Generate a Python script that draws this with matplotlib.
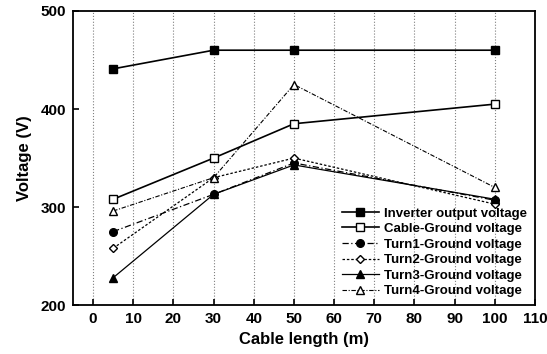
import matplotlib
matplotlib.use("Agg")
import matplotlib.pyplot as plt

cable_length = [5, 30, 50, 100]
inverter = [441, 460, 460, 460]
cable_ground = [308, 350, 385, 405]
turn1 = [275, 313, 345, 307]
turn2 = [258, 330, 350, 303]
turn3 = [228, 313, 343, 308]
turn4 = [296, 330, 425, 320]
labels = ["Inverter output voltage", "Cable-Ground voltage", "Turn1-Ground voltage",
          "Turn2-Ground voltage", "Turn3-Ground voltage", "Turn4-Ground voltage"]
xticks = list(range(0, 111, 10))
yticks = [200, 300, 400, 500]

plt.rcParams['font.family'] = ['Liberation Sans', 'DejaVu Sans']
plt.rcParams['font.weight'] = 'bold'

fig = plt.figure(figsize=(5.47, 3.54), dpi=100)
ax = fig.add_axes([0.1335, 0.138, 0.8445, 0.831])

series = [inverter, cable_ground, turn1, turn2, turn3, turn4]
styles = [
    dict(ls='-', marker='s', mfc='black', lw=1.2),
    dict(ls='-', marker='s', mfc='white', lw=1.2),
    dict(ls=(0, (5, 2, 1, 2)), marker='o', mfc='black', lw=0.9),
    dict(ls=(0, (2, 1.5)), marker='D', mfc='white', lw=0.9, ms=4.5),
    dict(ls='-', marker='^', mfc='black', lw=0.9),
    dict(ls=(0, (4, 1.5, 1, 1.5)), marker='^', mfc='white', lw=0.8),
]
for s, st, lab in zip(series, styles, labels):
    kw = dict(color='black', mec='black', ms=5.5)
    kw.update(st)
    ax.plot(cable_length, s, label=lab, **kw)

ax.set_xlim(-5, 110)
ax.set_ylim(200, 500)
ax.set_xticks(xticks)
ax.set_yticks(yticks)
ax.tick_params(direction='in', length=4, width=1.2, labelsize=11, pad=5)
for lbl in ax.get_xticklabels() + ax.get_yticklabels():
    lbl.set_fontweight('bold')
ax.xaxis.grid(True, ls=':', color='gray', lw=0.8)
for sp in ax.spines.values():
    sp.set_linewidth(1.3)
ax.set_xlabel("Cable length (m)", fontsize=12, fontweight='bold', labelpad=4)
ax.set_ylabel("Voltage (V)", fontsize=12, fontweight='bold', labelpad=6)

leg = ax.legend(loc='lower right', frameon=False, handlelength=2.8,
                labelspacing=0.25, borderaxespad=0.2, handletextpad=0.4,
                prop=dict(weight='bold', size=9.5))

fig.savefig("out.png", dpi=100)
